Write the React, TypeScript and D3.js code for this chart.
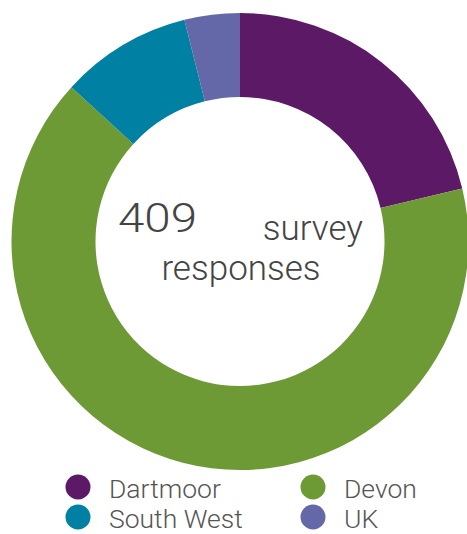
import React from "react";
import * as d3 from "d3";

const categories = ["Dartmoor", "Devon", "South West", "UK"];
const values = [87, 268, 38, 16];
const colors = ["#5c1a66", "#6e9a35", "#0080a2", "#6467a8"];
const total = 409;

export default function App() {
  const W = 467, H = 534;
  const cx = 240, cy = 241.5, R = 228.5, r = 144.5;
  const pie = d3.pie<number>().sort(null).value((d) => d)(values);
  const arc = d3.arc<d3.PieArcDatum<number>>().innerRadius(r).outerRadius(R);
  const legendPos = [
    { x: 78, y: 487, ty: 498 },
    { x: 313, y: 487, ty: 498 },
    { x: 78, y: 517, ty: 528 },
    { x: 313, y: 517, ty: 528 },
  ];
  return (
    <svg width={W} height={H} style={{ position: "absolute", left: 0, top: 0 }}>
      <g transform={`translate(${cx},${cy})`}>
        {pie.map((p, i) => (
          <path key={i} d={arc(p) || ""} fill={colors[i]} />
        ))}
      </g>
      <g fontFamily="Roboto, 'Liberation Sans', sans-serif" fontWeight={300} fill="#444">
        <text x={118} y={232} fontSize={41} textLength={79} lengthAdjust="spacingAndGlyphs">{total}</text>
        <text x={363} y={240} fontSize={35} textAnchor="end">survey</text>
        <text x={241} y={280} fontSize={35} textAnchor="middle">responses</text>
      </g>
      {categories.map((c, i) => (
        <g key={c}>
          <circle cx={legendPos[i].x} cy={legendPos[i].y} r={12.5} fill={colors[i]} />
          <text
            x={legendPos[i].x + 31}
            y={legendPos[i].ty}
            fontSize={26.5}
            fontFamily="Roboto, 'Liberation Sans', sans-serif"
            fontWeight={300}
            fill="#555"
          >
            {c}
          </text>
        </g>
      ))}
    </svg>
  );
}
